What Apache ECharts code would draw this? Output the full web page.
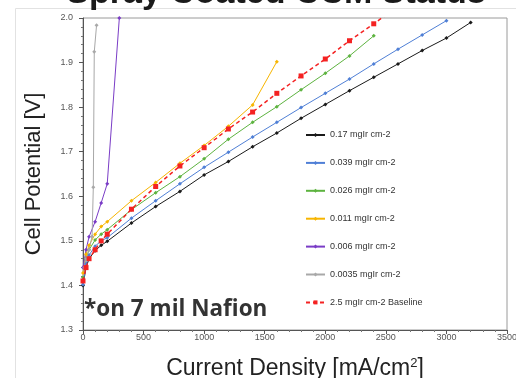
<!DOCTYPE html>
<html>
<head>
<meta charset="utf-8">
<script src="https://cdn.jsdelivr.net/npm/echarts@6/dist/echarts.min.js"></script>
<style>
  html, body { margin: 0; padding: 0; background: #fff; }
  #chart { width: 516px; height: 378px; }
</style>
</head>
<body>
<div id="chart"></div>
<script>
// Polarization curves of spray-coated CCMs at different Ir loadings
const seriesNames = [
  '0.17 mgIr cm-2',
  '0.039 mgIr cm-2',
  '0.026 mgIr cm-2',
  '0.011 mgIr cm-2',
  '0.006 mgIr cm-2',
  '0.0035 mgIr cm-2',
  '2.5 mgIr cm-2 Baseline'
];

// current density [mA/cm2] and cell potential [V] for each loading
const jIr017 = [0, 25, 50, 100, 150, 200, 400, 600, 800, 1000, 1200, 1400, 1600, 1800, 2000, 2200, 2400, 2600, 2800, 3000, 3200];
const vIr017 = [1.400, 1.440, 1.460, 1.478, 1.490, 1.499, 1.540, 1.577, 1.611, 1.648, 1.678, 1.711, 1.742, 1.775, 1.806, 1.837, 1.867, 1.897, 1.927, 1.955, 1.990];

const jIr0039 = [0, 25, 50, 100, 150, 200, 400, 600, 800, 1000, 1200, 1400, 1600, 1800, 2000, 2200, 2400, 2600, 2800, 3000];
const vIr0039 = [1.402, 1.448, 1.468, 1.488, 1.500, 1.507, 1.551, 1.590, 1.628, 1.665, 1.699, 1.733, 1.766, 1.799, 1.831, 1.863, 1.897, 1.930, 1.962, 1.994];

const jIr0026 = [0, 25, 50, 100, 150, 200, 400, 600, 800, 1000, 1200, 1400, 1600, 1800, 2000, 2200, 2400];
const vIr0026 = [1.418, 1.460, 1.480, 1.502, 1.515, 1.525, 1.570, 1.608, 1.644, 1.684, 1.728, 1.766, 1.801, 1.839, 1.876, 1.915, 1.960];

const jIr0011 = [0, 25, 50, 100, 150, 200, 400, 600, 800, 1000, 1200, 1400, 1600];
const vIr0011 = [1.428, 1.470, 1.490, 1.515, 1.532, 1.543, 1.590, 1.631, 1.674, 1.714, 1.757, 1.805, 1.902];

const jIr0006 = [0, 25, 50, 100, 150, 200, 300];
const vIr0006 = [1.440, 1.480, 1.509, 1.543, 1.585, 1.628, 2.000];

const jIr00035 = [0, 10, 25, 50, 75, 85, 93, 112];
const vIr00035 = [1.410, 1.440, 1.460, 1.480, 1.510, 1.620, 1.924, 1.984];

const jBase = [0, 25, 50, 100, 150, 200, 400, 600, 800, 1000, 1200, 1400, 1600, 1800, 2000, 2200, 2400, 2600];
const vBase = [1.410, 1.440, 1.460, 1.480, 1.500, 1.515, 1.571, 1.622, 1.668, 1.709, 1.751, 1.789, 1.831, 1.870, 1.908, 1.949, 1.987, 2.026];

const xTicks = [0, 500, 1000, 1500, 2000, 2500, 3000, 3500];
const yTicks = [1.3, 1.4, 1.5, 1.6, 1.7, 1.8, 1.9, 2.0];

const pairs = (xs, ys) => xs.map((x, i) => [x, ys[i]]);

const curves = [
  { name: seriesNames[0], data: pairs(jIr017, vIr017), color: '#1a1a1a', symbol: 'diamond', size: 4 },
  { name: seriesNames[1], data: pairs(jIr0039, vIr0039), color: '#4f7fd6', symbol: 'diamond', size: 4 },
  { name: seriesNames[2], data: pairs(jIr0026, vIr0026), color: '#5db33f', symbol: 'diamond', size: 4 },
  { name: seriesNames[3], data: pairs(jIr0011, vIr0011), color: '#f7b500', symbol: 'diamond', size: 4 },
  { name: seriesNames[4], data: pairs(jIr0006, vIr0006), color: '#7a3cc6', symbol: 'diamond', size: 4 },
  { name: seriesNames[5], data: pairs(jIr00035, vIr00035), color: '#a8a8a8', symbol: 'diamond', size: 4 },
  { name: seriesNames[6], data: pairs(jBase, vBase), color: '#f42222', symbol: 'rect', size: 5, dashed: true }
];

const chart = echarts.init(document.getElementById('chart'), null, { renderer: 'canvas' });

const option = {
  animation: false,
  backgroundColor: '#ffffff',
  textStyle: { fontFamily: 'Liberation Sans, Arial, sans-serif' },
  grid: {
    left: 83, right: 9, top: 18, bottom: 48,
    containLabel: false,
    outerBoundsMode: 'none',
    show: true, borderColor: '#9a9a9a', borderWidth: 1, backgroundColor: '#ffffff'
  },
  legend: {
    orient: 'vertical',
    left: 305,
    top: 130,
    padding: 0,
    itemWidth: 19,
    itemHeight: 5,
    itemGap: 17.9,
    data: seriesNames,
    textStyle: { fontSize: 9, color: '#333', lineHeight: 10, fontFamily: 'Liberation Sans, Arial, sans-serif' }
  },
  xAxis: {
    type: 'value',
    min: xTicks[0],
    max: xTicks[xTicks.length - 1],
    interval: 500,
    name: 'Current Density [mA/cm{sup|2}]',
    nameLocation: 'middle',
    nameGap: 27,
    nameTextStyle: {
      fontSize: 23, color: '#222',
      rich: { sup: { fontSize: 13, color: '#222', verticalAlign: 'top', padding: [0, 0, 10, 0] } }
    },
    axisLine: { lineStyle: { color: '#555', width: 1 } },
    axisTick: { show: true, length: 4, lineStyle: { color: '#555' } },
    minorTick: { show: true, splitNumber: 5, length: 2, lineStyle: { color: '#777' } },
    splitLine: { show: false },
    axisLabel: { fontSize: 9, color: '#555', margin: 3, formatter: v => String(v) }
  },
  yAxis: {
    type: 'value',
    min: yTicks[0],
    max: yTicks[yTicks.length - 1],
    interval: 0.1,
    name: 'Cell Potential [V]',
    nameLocation: 'middle',
    nameGap: 38,
    nameTextStyle: { fontSize: 22, color: '#222' },
    axisLine: { show: true, lineStyle: { color: '#555', width: 1 } },
    axisTick: { show: true, length: 4, lineStyle: { color: '#555' } },
    minorTick: { show: true, splitNumber: 5, length: 2, lineStyle: { color: '#777' } },
    splitLine: { show: false },
    axisLabel: { fontSize: 9, color: '#555', margin: 10, formatter: v => v.toFixed(1) }
  },
  series: curves.map(c => ({
    name: c.name,
    type: 'line',
    data: c.data,
    clip: true,
    symbol: c.symbol,
    symbolSize: c.size,
    showSymbol: true,
    itemStyle: { color: c.color },
    lineStyle: { color: c.color, width: c.dashed ? 1.5 : 1, type: c.dashed ? [4, 3] : 'solid' },
    z: c.dashed ? 3 : 2
  })),
  graphic: [
    {
      type: 'rect', silent: true, z: -10,
      shape: { x: 15.5, y: 8.5, width: 540, height: 420 },
      style: { fill: 'none', stroke: '#e2e2e2', lineWidth: 1 }
    },
    {
      type: 'text', silent: true,
      style: {
        text: 'Spray Coated CCM Status',
        x: 276, y: 11, align: 'center', verticalAlign: 'bottom',
        font: 'bold 34px "Liberation Sans", Arial, sans-serif', fill: '#1a1a1a'
      }
    },
    {
      type: 'text', silent: true, z: 10,
      style: {
        text: '*on 7 mil Nafion',
        x: 84, y: 310, align: 'left', verticalAlign: 'middle',
        font: 'bold 22.5px "Open Sans", "Liberation Sans", Arial, sans-serif', fill: '#333'
      }
    }
  ]
};

chart.setOption(option);
</script>
</body>
</html>
